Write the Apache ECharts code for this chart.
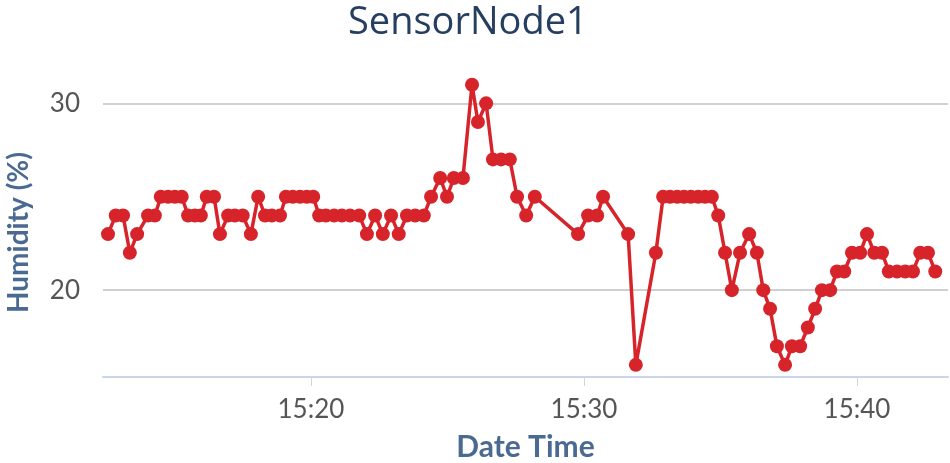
<!DOCTYPE html>
<html>
<head>
<meta charset="utf-8">
<script src="https://cdn.jsdelivr.net/npm/echarts@6/dist/echarts.min.js"></script>
<style>html,body{margin:0;padding:0;background:#fff}#c{width:950px;height:463px}</style>
</head>
<body>
<div id="c"></div>
<script>
const day = '2020-01-01 ';
const times = [
'15:12:34','15:12:51','15:13:07','15:13:22','15:13:38','15:14:02','15:14:17','15:14:30','15:14:46','15:15:01',
'15:15:16','15:15:30','15:15:45','15:15:58','15:16:11','15:16:27','15:16:40','15:16:58','15:17:13','15:17:30',
'15:17:48','15:18:04','15:18:19','15:18:34','15:18:52','15:19:05','15:19:20','15:19:36','15:19:51','15:20:05',
'15:20:18','15:20:33','15:20:51','15:21:08','15:21:26','15:21:46','15:22:03','15:22:21','15:22:38','15:22:56',
'15:23:13','15:23:31','15:23:49','15:24:08','15:24:24','15:24:44','15:24:59','15:25:14','15:25:34','15:25:54',
'15:26:07','15:26:25','15:26:40','15:26:58','15:27:17','15:27:33','15:27:53','15:28:12','15:29:47','15:30:09',
'15:30:29','15:30:42','15:31:37','15:31:54','15:32:38','15:32:54','15:33:09','15:33:25','15:33:40','15:33:55',
'15:34:11','15:34:26','15:34:41','15:34:55','15:35:10','15:35:25','15:35:43','15:36:03','15:36:20','15:36:34',
'15:36:49','15:37:04','15:37:22','15:37:37','15:37:55','15:38:12','15:38:28','15:38:43','15:39:01','15:39:16',
'15:39:32','15:39:49','15:40:07','15:40:22','15:40:38','15:40:55','15:41:10','15:41:28','15:41:46','15:42:03',
'15:42:19','15:42:36','15:42:52'
];
const humidity = [
23,24,24,22,23,24,24,25,25,25,
25,24,24,24,25,25,23,24,24,24,
23,25,24,24,24,25,25,25,25,25,
24,24,24,24,24,24,23,24,23,24,
23,24,24,24,25,26,25,26,26,31,
29,30,27,27,27,25,24,25,23,24,
24,25,23,16,22,25,25,25,25,25,
25,25,25,24,22,20,22,23,22,20,
19,17,16,17,17,18,19,20,20,21,
21,22,22,23,22,22,21,21,21,21,
22,22,21
];
const xTickTimes = ['15:20:00','15:30:00','15:40:00'];
const yTickValues = [20, 30];
const xRange = ['15:12:23','15:43:20'];
const yRange = [15.35, 32];

const ts = t => new Date(day + t).getTime();
const seriesData = times.map((t, i) => [ts(t), humidity[i]]);
const xTicks = xTickTimes.map(ts);
const pad = n => (n < 10 ? '0' : '') + n;
const hhmm = v => { const d = new Date(v); return pad(d.getHours()) + ':' + pad(d.getMinutes()); };

const chart = echarts.init(document.getElementById('c'), null, {renderer: 'canvas'});
chart.setOption({
  animation: false,
  title: {
    text: 'SensorNode1',
    left: 343,
    top: -1,
    textStyle: {fontFamily: 'Open Sans', fontSize: 38, fontWeight: 'normal', color: '#263f60'}
  },
  grid: {left: 103, right: 2, top: 66, bottom: 86, containLabel: false, outerBoundsMode: 'none'},
  xAxis: {
    type: 'value',
    min: ts(xRange[0]),
    max: ts(xRange[1]),
    name: 'Date Time',
    nameLocation: 'middle',
    nameGap: 55,
    nameTextStyle: {fontFamily: 'Lato', fontSize: 30, fontWeight: 'bold', color: '#4a6a92'},
    axisLine: {lineStyle: {color: '#ccd6eb', width: 2}},
    axisTick: {show: true, length: 9, lineStyle: {color: '#ccd6eb', width: 1}, customValues: xTicks},
    axisLabel: {
      customValues: xTicks,
      formatter: hhmm,
      fontFamily: 'Lato', fontSize: 26, color: '#555', margin: 20
    },
    splitLine: {show: false}
  },
  yAxis: {
    type: 'value',
    min: yRange[0],
    max: yRange[1],
    name: 'Humidity (%)',
    nameLocation: 'middle',
    nameGap: 70,
    nameTextStyle: {fontFamily: 'Lato', fontSize: 28, fontWeight: 'bold', color: '#4a6a92', padding: [0, 22, 0, 0]},
    axisLine: {show: false},
    axisTick: {show: false, customValues: yTickValues},
    axisLabel: {customValues: yTickValues, fontFamily: 'Lato', fontSize: 26, color: '#555', margin: 23},
    splitLine: {show: true, lineStyle: {color: '#d0d0d0', width: 2}}
  },
  series: [{
    type: 'line',
    data: seriesData,
    symbol: 'circle',
    symbolSize: 14,
    showAllSymbol: true,
    lineStyle: {color: '#d7242a', width: 3.5},
    itemStyle: {color: '#d7242a'}
  }]
});
</script>
</body>
</html>
